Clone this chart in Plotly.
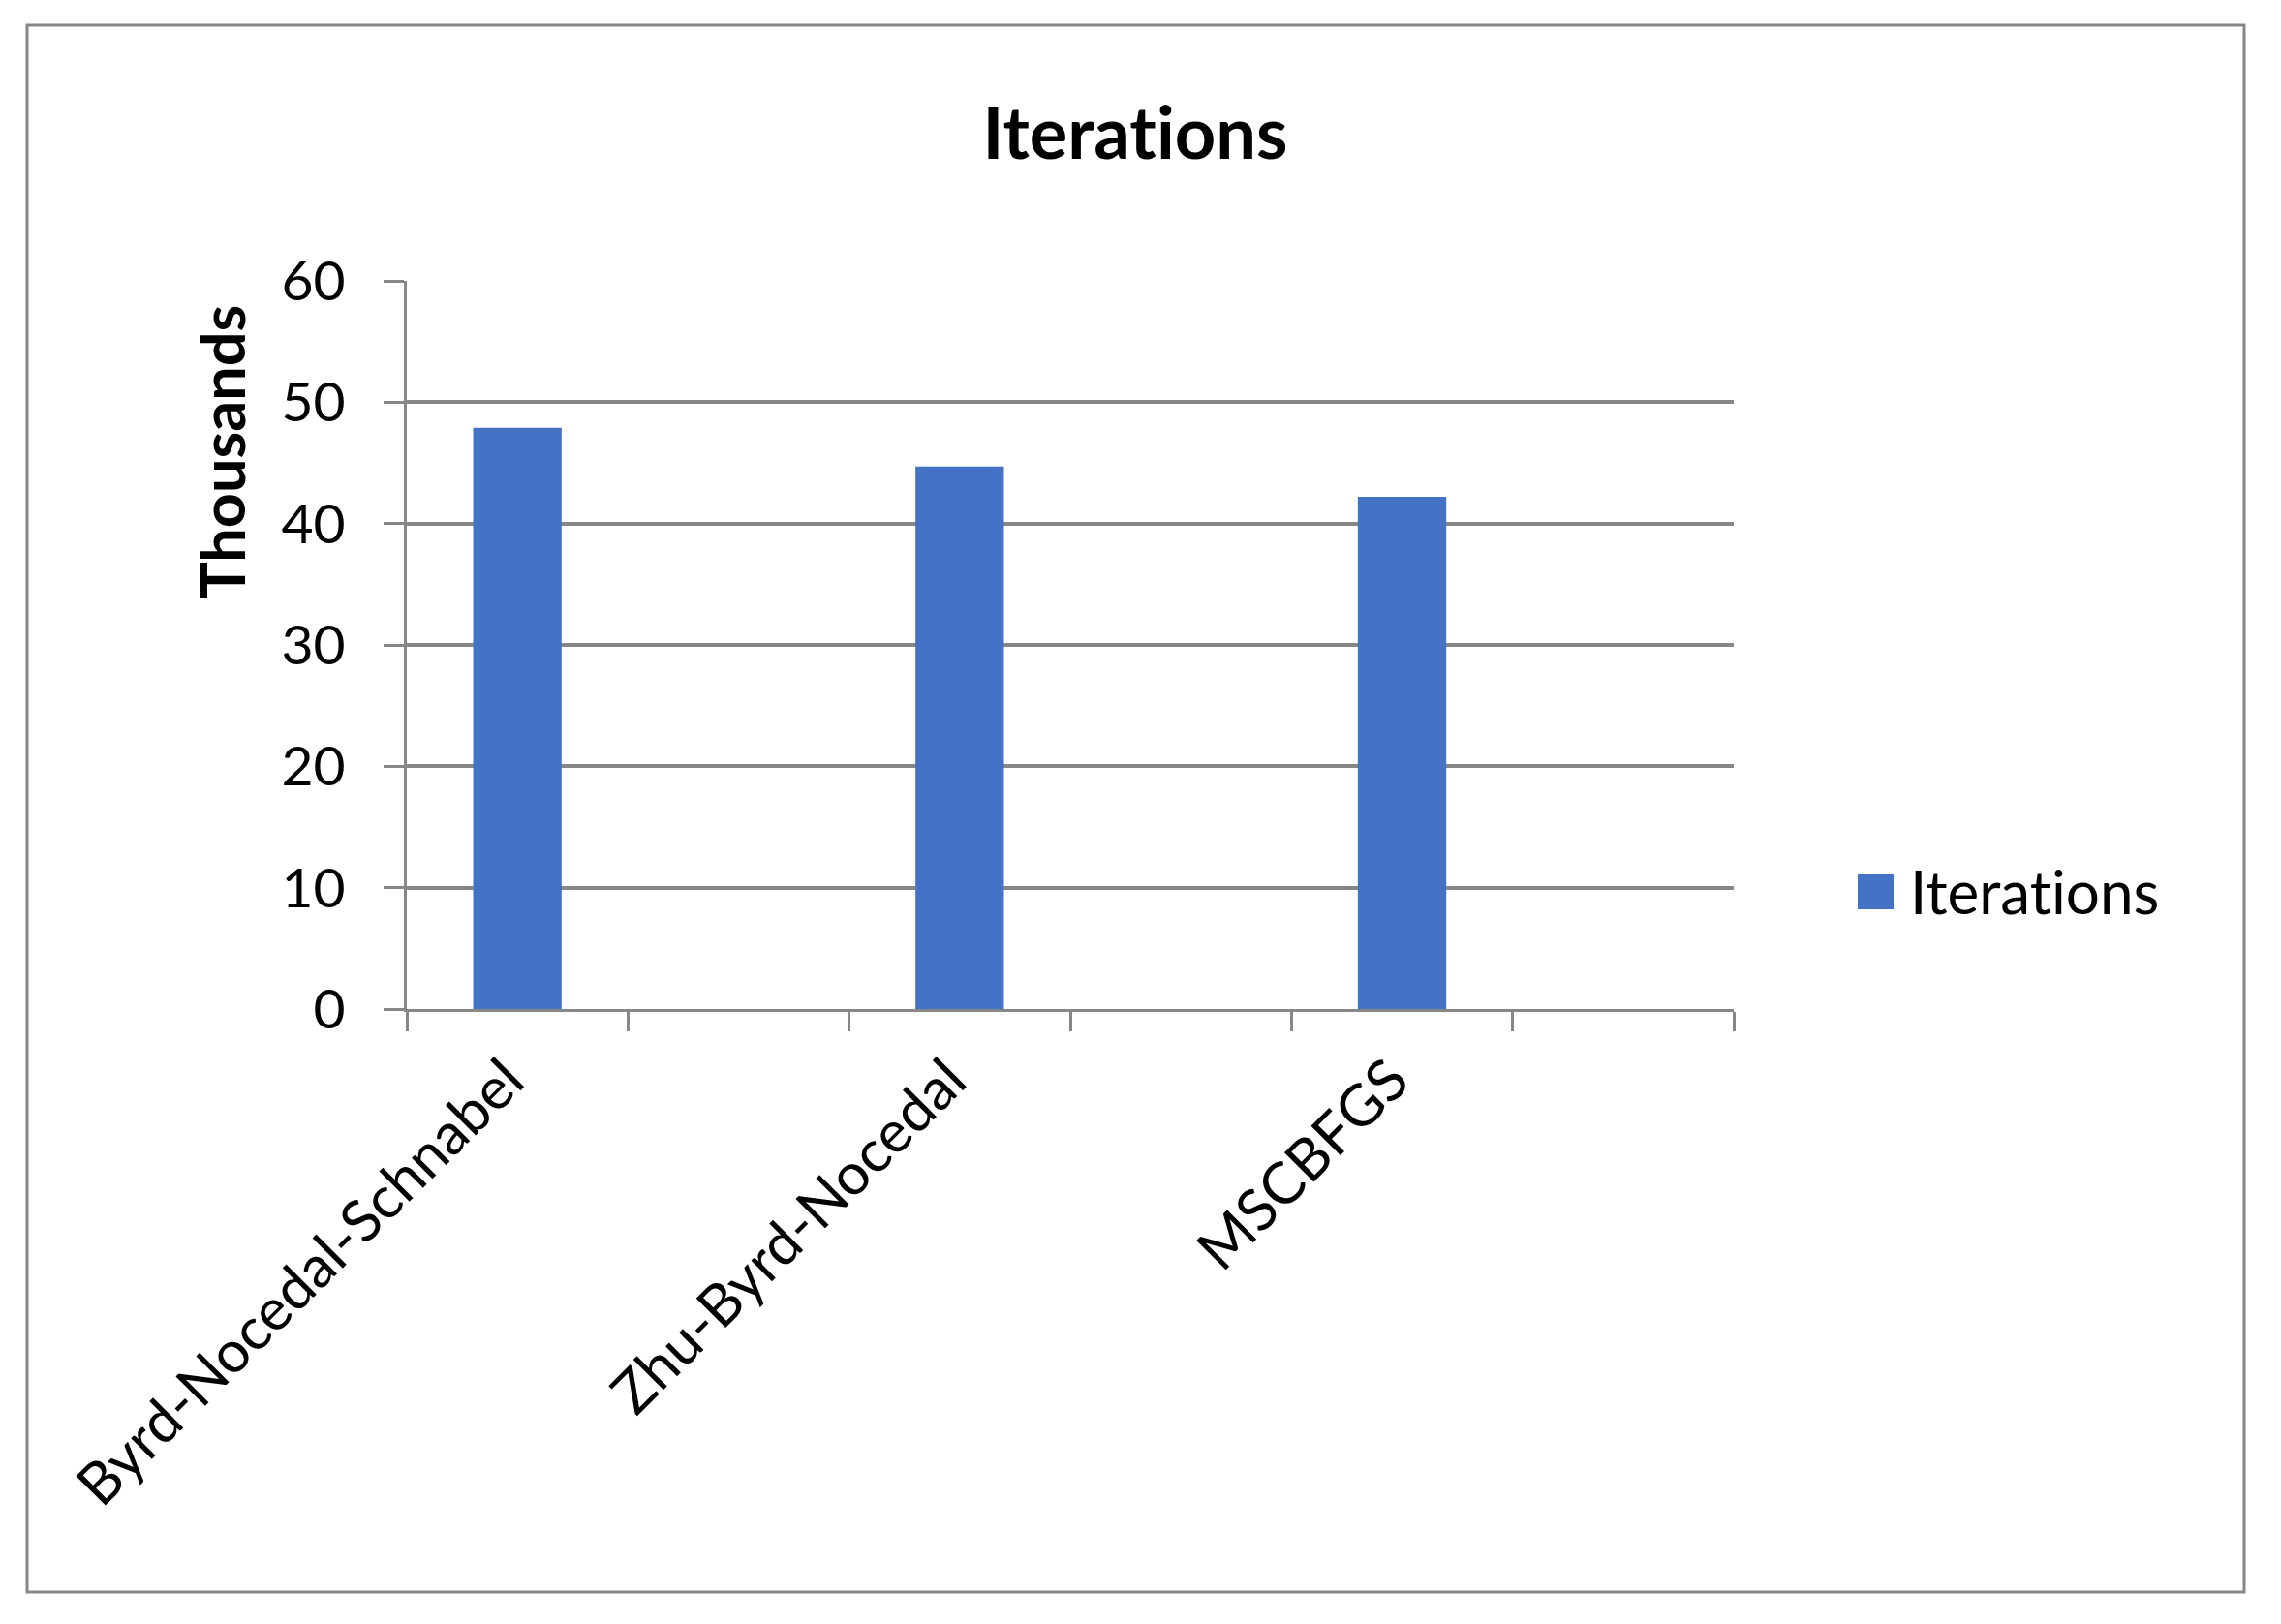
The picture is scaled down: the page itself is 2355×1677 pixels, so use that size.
import plotly.graph_objects as go

# ---- data ----
categories = ["Byrd-Nocedal-Schnabel", " ", "Zhu-Byrd-Nocedal", "  ", "MSCBFGS", "   "]
iterations = [47900, None, 44700, None, 42200, None]   # raw iteration counts
series_name = "Iterations"
chart_title = "Iterations"
y_title = "Thousands"
y_ticks = [0, 10, 20, 30, 40, 50, 60]

values_k = [v / 1000 if v is not None else None for v in iterations]

def no_lig(s):
    # break the Lato "ti" ligature so the text renders as separate letters
    return s.replace("ti", "t\u200ci")

W, H = 2355, 1677          # browser window
OFF = 8                    # default body margin of the page
FW, FH = W - 2 * OFF, H - 2 * OFF
L, R, T, B = 420, 1790, 290, 1042   # plot area in window pixels
pw, ph = R - L, B - T

def px(x):
    return (x - L) / pw

def py(y):
    return (B - y) / ph

GRID = "#878787"
BLUE = "#4472C4"
FONT = "Lato"

fig = go.Figure()
fig.add_trace(go.Bar(
    x=categories, y=values_k, name=series_name,
    marker=dict(color=BLUE, line=dict(width=0)),
    width=0.4, showlegend=False,
))

fig.update_layout(
    width=FW, height=FH,
    margin=dict(l=L - OFF, r=W - R - OFF, t=T - OFF, b=H - B - OFF, pad=0),
    paper_bgcolor="white", plot_bgcolor="white",
    font=dict(family=FONT, color="black", size=57),
    title=dict(text=f"<b>{no_lig(chart_title)}</b>", x=(1172 - OFF) / FW, xref="container",
               xanchor="center", y=1 - (138 - OFF) / FH, yref="container", yanchor="middle",
               font=dict(family=FONT, size=74, color="black")),
    showlegend=False,
)

fig.update_xaxes(
    type="category", categoryorder="array", categoryarray=categories,
    range=[-0.5, 5.5], tickson="boundaries",
    ticks="outside", ticklen=20, tickwidth=3, tickcolor=GRID,
    showline=True, linecolor=GRID, linewidth=3,
    showgrid=False, tickangle=-45, ticklabelstandoff=11, ticklabelshift=-11,
    tickfont=dict(family=FONT, size=60, color="black"),
)
fig.update_yaxes(
    range=[0, 60], tickvals=y_ticks, ticktext=[str(t) for t in y_ticks],
    ticks="outside", ticklen=21, tickwidth=3, tickcolor=GRID,
    showline=True, linecolor=GRID, linewidth=3,
    showgrid=True, gridcolor=GRID, gridwidth=3.5,
    zeroline=False, ticklabelstandoff=28,
    tickfont=dict(family=FONT, size=57, color="black"),
)

# y-axis title (placed as in the reference, above axis centre)
fig.add_annotation(text=f"<b>{y_title}</b>", textangle=-90,
                   x=px(228), y=py(466), xref="paper", yref="paper",
                   xanchor="center", yanchor="middle",
                   showarrow=False, font=dict(family=FONT, size=63, color="black"))

# legend (drawn manually to match the large swatch)
fig.add_shape(type="rect", xref="paper", yref="paper",
              x0=px(1918), x1=px(1955), y0=py(939), y1=py(903),
              fillcolor=BLUE, line=dict(width=0))
fig.add_annotation(text=no_lig(series_name), x=px(1970), y=py(920), xref="paper", yref="paper",
                   xanchor="left", yanchor="middle", showarrow=False,
                   font=dict(family=FONT, size=62, color="black"))

# outer chart frame
fig.add_shape(type="rect", xref="paper", yref="paper",
              x0=px(28), x1=px(2317), y0=py(1644), y1=py(26),
              line=dict(color=GRID, width=3), fillcolor="rgba(0,0,0,0)", layer="below")

fig.write_html("out.html")
